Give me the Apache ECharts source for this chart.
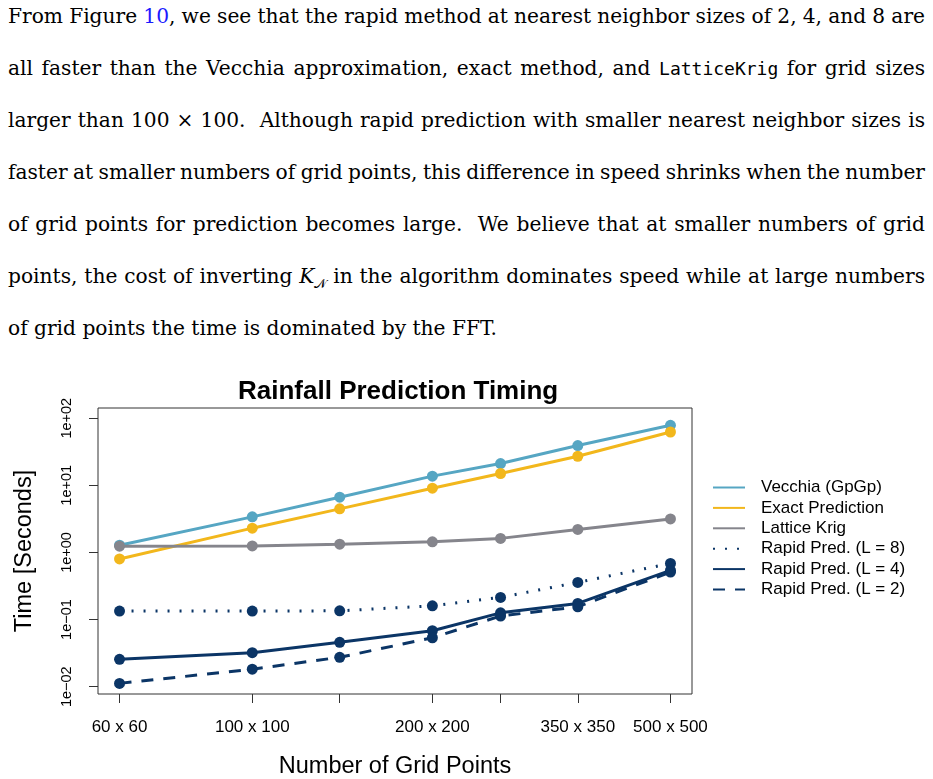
<!DOCTYPE html>
<html>
<head>
<meta charset="utf-8">
<script src="https://cdn.jsdelivr.net/npm/echarts@6/dist/echarts.min.js"></script>
<style>
  html, body { margin: 0; padding: 0; background: #fff; }
  #page { position: relative; width: 933px; height: 779px; overflow: hidden; }
  #text { position: absolute; left: 8px; top: -10px; width: 917px;
          font-family: "DejaVu Serif", serif; font-size: 20.2px; color: #000; }
  #text .ln { height: 52px; line-height: 52px; text-align: justify; text-align-last: justify;
              white-space: nowrap; word-spacing: -4px; }
  #text .ln.last { text-align-last: left; word-spacing: 0; }
  #text .ref { color: #1a1aff; }
  #text code { font-family: "DejaVu Sans Mono", monospace; font-size: 18px; }
  #text sub { font-size: 13px; line-height: 0; }
  #chart { position: absolute; left: 0; top: 340px; width: 933px; height: 439px; }
</style>
</head>
<body>
<div id="page">
  <div id="text">
    <div class="ln">From Figure <span class="ref">10</span>, we see that the rapid method at nearest neighbor sizes of 2, 4, and 8 are</div>
    <div class="ln">all faster than the Vecchia approximation, exact method, and <code>LatticeKrig</code> for grid sizes</div>
    <div class="ln">larger than 100 × 100. &nbsp;Although rapid prediction with smaller nearest neighbor sizes is</div>
    <div class="ln">faster at smaller numbers of grid points, this difference in speed shrinks when the number</div>
    <div class="ln">of grid points for prediction becomes large. &nbsp;We believe that at smaller numbers of grid</div>
    <div class="ln">points, the cost of inverting <i>K</i><sub>𝒩</sub> in the algorithm dominates speed while at large numbers</div>
    <div class="ln last">of grid points the time is dominated by the FFT.</div>
  </div>
  <div id="chart"></div>
</div>
<script>
  // grid side length (n for an n x n grid)
  var gridSizes = [60, 100, 140, 200, 260, 350, 500]
  var gridLabels = ['60 x 60', '100 x 100', '', '200 x 200', '', '350 x 350', '500 x 500']

  // time in seconds
  var vecchia = [1.28, 3.39, 6.65, 13.7, 21.1, 39.1, 78.4]
  var exact = [0.80, 2.30, 4.46, 9.05, 15.0, 27.1, 62.3]
  var lattice = [1.24, 1.25, 1.33, 1.44, 1.62, 2.20, 3.16]
  var rapidL8 = [0.134, 0.134, 0.135, 0.160, 0.214, 0.358, 0.686]
  var rapidL4 = [0.0256, 0.0321, 0.0458, 0.0681, 0.126, 0.174, 0.54]
  var rapidL2 = [0.0112, 0.0182, 0.0274, 0.0536, 0.113, 0.155, 0.51]

  var yTicks = [0.01, 0.1, 1, 10, 100]

  var seriesDefs = [
    { name: 'Vecchia (GpGp)', data: vecchia, color: '#56a6c3', type: 'solid' },
    { name: 'Exact Prediction', data: exact, color: '#f2b71c', type: 'solid' },
    { name: 'Lattice Krig', data: lattice, color: '#85858c', type: 'solid' },
    { name: 'Rapid Pred. (L = 8)', data: rapidL8, color: '#0b3566', type: [2, 10] },
    { name: 'Rapid Pred. (L = 4)', data: rapidL4, color: '#0b3566', type: 'solid' },
    { name: 'Rapid Pred. (L = 2)', data: rapidL2, color: '#0b3566', type: [12, 10] }
  ]

  function lg(v) { return Math.log10(v) }

  function expLabel(v) {
    var e = Math.round(v)
    var s = e < 0 ? '\u2212' : '+'
    var a = Math.abs(e)
    return '1e' + s + (a < 10 ? '0' + a : '' + a)
  }

  var chart = echarts.init(document.getElementById('chart'))
  var font = 'Liberation Sans, Arial, sans-serif'

  chart.setOption({
    animation: false,
    textStyle: { fontFamily: font },
    title: {
      text: 'Rainfall Prediction Timing',
      left: 233,
      top: 34,
      textStyle: { fontSize: 26, fontWeight: 'bold', color: '#000', fontFamily: font }
    },
    grid: {
      left: 98,
      right: 241,
      top: 68,
      bottom: 85,
      outerBoundsMode: 'none',
      containLabel: false,
      show: true,
      borderColor: '#333',
      borderWidth: 1,
      backgroundColor: 'transparent'
    },
    legend: {
      orient: 'vertical',
      left: 707,
      top: 134,
      itemWidth: 32,
      itemHeight: 14,
      itemGap: 3.4,
      itemStyle: { opacity: 0 },
      textStyle: { fontSize: 17, color: '#000', fontFamily: font, padding: [0, 0, 0, 11] },
      data: seriesDefs.map(function (s) { return s.name })
    },
    xAxis: {
      type: 'value',
      min: lg(gridSizes[0]) - 0.036,
      max: lg(gridSizes[gridSizes.length - 1]) + 0.036,
      name: 'Number of Grid Points',
      nameLocation: 'middle',
      nameGap: 61,
      nameTextStyle: { fontSize: 23.5, color: '#000', fontFamily: font },
      axisLine: { show: false, onZero: false },
      splitLine: { show: false },
      axisTick: {
        show: true, length: 9, inside: false,
        lineStyle: { color: '#333' },
        customValues: gridSizes.map(lg)
      },
      axisLabel: {
        fontSize: 17, color: '#000', margin: 25,
        customValues: gridSizes.filter(function (n, i) { return gridLabels[i] !== '' }).map(lg),
        formatter: function (v) {
          var i = gridSizes.findIndex(function (n) { return Math.abs(lg(n) - v) < 1e-6 })
          return i >= 0 ? gridLabels[i] : ''
        }
      }
    },
    yAxis: {
      type: 'value',
      min: -2.109,
      max: 2.152,
      name: 'Time [Seconds]',
      nameLocation: 'middle',
      nameGap: 61,
      nameTextStyle: { fontSize: 23.5, color: '#000', fontFamily: font },
      axisLine: { show: false, onZero: false },
      splitLine: { show: false },
      axisTick: {
        show: true, length: 9, inside: false,
        lineStyle: { color: '#333' },
        customValues: yTicks.map(lg)
      },
      axisLabel: {
        fontSize: 14.5, color: '#000', rotate: 90, margin: 24,
        customValues: yTicks.map(lg),
        formatter: expLabel
      }
    },
    series: seriesDefs.map(function (s) {
      return {
        name: s.name,
        type: 'line',
        symbol: 'circle',
        symbolSize: 11,
        showSymbol: true,
        itemStyle: { color: s.color },
        lineStyle: { color: s.color, width: 3, type: s.type },
        data: s.data.map(function (v, i) { return [lg(gridSizes[i]), lg(v)] })
      }
    })
  })
</script>
</body>
</html>
